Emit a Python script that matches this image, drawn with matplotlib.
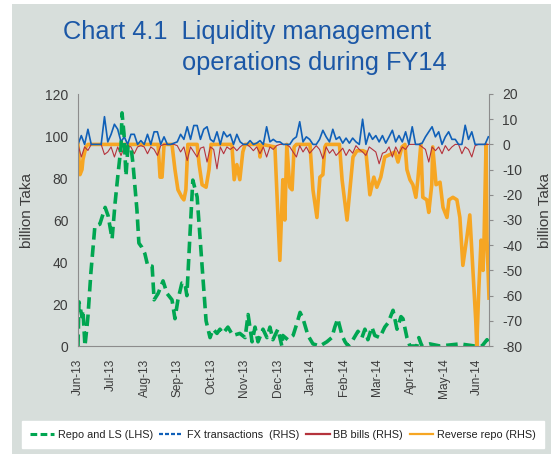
"""Chart 4.1: liquidity management operations during FY14 (repo, FX, BB bills, reverse repo)."""

import matplotlib

matplotlib.use("Agg")
import matplotlib.pyplot as plt
import numpy as np
from matplotlib.lines import Line2D
from matplotlib.patches import Rectangle

plt.rcParams["axes.unicode_minus"] = False

BG = "#d7dedb"
TITLE_BLUE = "#1b57a6"
TEXT = "#3c3c3c"
AXIS_GREY = "#8c8c8c"
GREEN = "#00a651"
ORANGE = "#f6a623"
BLUE = "#1060b8"
RED = "#b5333c"

MONTH_LABELS = [
    "Jun-13", "Jul-13", "Aug-13", "Sep-13", "Oct-13", "Nov-13", "Dec-13",
    "Jan-14", "Feb-14", "Mar-14", "Apr-14", "May-14", "Jun-14",
]

# x positions are in months since the start of the chart (Jun-13 = 0)
REPO_X = [
    0.00, 0.03, 0.12, 0.15, 0.21, 0.27, 0.30, 0.39, 0.51, 0.66, 0.82, 0.91,
    1.03, 1.12, 1.21, 1.30, 1.33, 1.39, 1.45, 1.51, 1.60, 1.66, 1.78, 1.84,
    1.93, 2.02, 2.11, 2.24, 2.30, 2.42, 2.57, 2.69, 2.84, 2.93, 3.02, 3.14,
    3.23, 3.29, 3.38, 3.47, 3.60, 3.75, 3.87, 3.99, 4.08, 4.20, 4.29, 4.38,
    4.53, 4.68, 4.89, 5.05, 5.14, 5.26, 5.35, 5.44, 5.59, 5.71, 5.80, 5.89,
    6.04, 6.16, 6.19, 6.34, 6.50, 6.62, 6.71, 6.80, 6.95, 7.10, 7.31, 7.52,
    7.67, 7.76, 7.85, 7.98, 8.07, 8.16, 8.31, 8.46, 8.58, 8.67, 8.76, 8.88,
    8.97, 9.12, 9.27, 9.37, 9.52, 9.64, 9.76, 9.82, 9.94, 10.03, 10.24, 10.30,
    10.39, 10.63, 10.94, 11.54, 11.99, 12.21, 12.36, 12.42,
]
REPO_VALUES = [
    0, 21, 14, 17, 0, 9, 14, 35, 57, 58, 66, 62,
    51, 68, 82, 95, 111, 101, 81, 95, 95, 87, 65, 49,
    47, 44, 38, 38, 22, 25, 31, 25, 22, 13, 22, 30,
    30, 24, 52, 79, 71, 38, 12, 4, 8, 6, 8, 6,
    9, 5, 6, 4, 15, 2, 9, 2, 8, 4, 9, 3,
    8, 0, 5, 3, 5, 11, 16, 13, 5, 1, 0, 2,
    4, 9, 13, 5, 2, 0, 3, 7, 4, 8, 3, 9,
    5, 4, 9, 11, 17, 8, 14, 13, 4, 0, 0, 4,
    0, 1, 0, 1, 0, 0, 3, 1,
]

RREPO_X = [
    0.00, 0.06, 0.12, 0.15, 0.24, 0.30,
    2.42, 2.48, 2.54, 2.60,
    2.84, 2.93, 3.02, 3.14, 3.20, 3.26, 3.32,
    3.60, 3.66, 3.75, 3.87, 3.96, 4.02,
    4.65, 4.72, 4.80, 4.89, 4.98, 5.05,
    5.46, 5.50, 5.56,
    5.95, 6.10, 6.19, 6.25, 6.31, 6.40, 6.47, 6.53, 6.60,
    7.01, 7.10, 7.22, 7.31, 7.40, 7.46, 7.50,
    7.90, 7.98, 8.13, 8.31, 8.43, 8.61, 8.70,
    8.82, 8.94, 9.03, 9.15, 9.27, 9.43, 9.58, 9.67, 9.79, 9.88,
    9.94, 10.03, 10.12, 10.21, 10.27, 10.36, 10.42, 10.54, 10.60, 10.69,
    10.72, 10.82, 10.94, 11.03, 11.15, 11.21, 11.33, 11.45, 11.54, 11.63,
    11.75, 11.84, 11.93, 12.02, 12.05, 12.11, 12.18, 12.24, 12.27, 12.33,
    12.36, 12.42,
]
RREPO_VALUES = [
    0, -12, -10, -6, -1, 0,
    0, -13, -13, 0,
    0, -10, -18, -21, -22, -18, 0,
    0, -8, -16, -17, -10, 0,
    0, -14, -8, -14, -3, 0,
    0, -5, 0,
    -1, -46, -14, -30, 0, -17, -18, -1, 0,
    0, -18, -29, -13, -12, -1, 0,
    0, -14, -30, -5, -2.5, -2.5, -3,
    -20, -13, -17, -13, -5, -4, -3, -7, -1, 0,
    -10, -14, -16, -21, -14, 0, -21, -22, -27, -16,
    -1, -16, -15, -25, -29, -22, -21, -22, -29, -48,
    -37, -28, -49, -70, -80, -58, -38, -50, -38, 0,
    -38, -61,
]

# FX and BB bills read every 0.1 month
FX_VALUES = [
    0, 3.5, 0, 6, 0, 0, 0, 0, 11, 1,
    4, 8, 6, 1, 3, 0, 4, 4, 0, 1.5,
    0, 4, 0, 5, 5, 0, 3, 0, 0, 0.5,
    1, 4, 2, 7, 2, 7.5, 7.5, 2, 6, 7,
    2, 1, 5, 0, 5, 3, 4, 0, 4, 1,
    0, 0, 1.5, 0, 0.5, 1.5, 0, 7, 1, 2,
    1, 1, 0, 0, 0, 2, 3, 9, 1, 3,
    2, 0, 0, 2, 5.6, 3, 1, 6, 2, 3,
    0.5, 2.5, 0.5, 2.5, 1, 0, 10, 0, 4.5, 2,
    3.5, 1, 3.5, 0.5, 3, 5.6, 1, 3.5, 1, 5,
    0, 7, 0, 0, 0.5, 3, 5, 7, 3, 5,
    0, 3, 5, 2, 2, 0, 0, 7.6, 2, 5,
    0, 0, 0, 0, 3,
]
BB_VALUES = [
    0, -5, -1, -2.4, 0, 0, 0, 0, -4, -3,
    -1, -5, -1, -4.4, -1, -0.5, -1, -3.7, -1, -0.5,
    -1, -3.7, -1, -2, -4.4, -0.5, 0, 0, 0, 0,
    -0.5, -3, -1, -6.4, -1, -3, -5, -1.5, -1, -7,
    -1, -2, -9.7, -1, -3.7, -1, -2, -1, -2.5, -1,
    0, 0, -1, -2.5, -1, -3.7, -1, -5, -1, -2,
    -0.5, 0, 0, 0, -1, -3, -5, -0.5, -3, -1,
    -3.5, -2, -0.5, -2, -5.7, -1, -3.5, -2, -4.4, -3,
    -1.5, -4.4, -2, -3.5, -0.5, -2, -3, -4.4, -1, -2,
    -3, -7.7, -3.5, -3, -1, -5, -1, -3.7, -1, -2,
    0, 0, 0, 0, -1, -2, -7, -1, -2.5, -1,
    -3.7, -0.5, -2.5, -1, 0, 0, -3.7, -1, -2, -5,
    -0.5, 0, 0, 0, 0,
]
GRID_STEP = 0.1

W, H = 551, 454


def fx(px: float) -> float:
    return px / W


def fy(py: float) -> float:
    return 1 - py / H


def main() -> None:
    fig = plt.figure(figsize=(W / 100, H / 100), dpi=100, facecolor="white")
    fig.patches.append(
        Rectangle((fx(12), 0), 1 - fx(12), fy(4), transform=fig.transFigure,
                  facecolor=BG, edgecolor="none", zorder=-10)
    )

    fig.text(fx(63), fy(39.3), "Chart 4.1  Liquidity management",
             family="Liberation Sans", fontsize=18.3, color=TITLE_BLUE, va="baseline")
    fig.text(fx(182), fy(70), "operations during FY14",
             family="Liberation Sans", fontsize=18.3, color=TITLE_BLUE, va="baseline")

    left, right, top, bottom = 78, 489, 94, 346
    ax = fig.add_axes([fx(left), fy(bottom), (right - left) / W, (bottom - top) / H])
    ax2 = ax.twinx()
    ax.set_zorder(ax2.get_zorder() + 1)
    ax.patch.set_visible(False)
    ax2.patch.set_visible(False)

    grid_x = np.arange(len(FX_VALUES)) * GRID_STEP
    ax2.plot(RREPO_X, RREPO_VALUES, color=ORANGE, lw=2.6, solid_joinstyle="round", zorder=1)
    ax2.plot(grid_x, BB_VALUES, color=RED, lw=0.8, zorder=2)
    ax2.plot(grid_x, FX_VALUES, color=BLUE, lw=1.2, zorder=3)
    ax.plot(REPO_X, REPO_VALUES, color=GREEN, lw=2.6, dashes=(3.2, 1.6))

    ax.set_xlim(0, 12.42)
    ax.set_ylim(0, 120)
    ax2.set_ylim(-80, 20)
    ax.set_yticks(np.arange(0, 121, 20))
    ax2.set_yticks(np.arange(-80, 21, 10))
    ax.set_xticks(np.arange(len(MONTH_LABELS)) * 1.005)
    ax.set_xticklabels(MONTH_LABELS, rotation=90, family="Liberation Sans", fontsize=8.6)

    for a in (ax, ax2):
        for side in ("top", "left", "right", "bottom"):
            a.spines[side].set_visible(False)
    for side in ("left", "bottom"):
        ax.spines[side].set_visible(True)
        ax.spines[side].set_color(AXIS_GREY)
        ax.spines[side].set_linewidth(0.8)
    ax2.spines["right"].set_visible(True)
    ax2.spines["right"].set_color(AXIS_GREY)
    ax2.spines["right"].set_linewidth(0.8)

    ax.tick_params(axis="x", length=0, pad=9, colors=TEXT)
    ax.tick_params(axis="y", length=0, pad=7, colors=TEXT, labelsize=10)
    ax2.tick_params(axis="y", length=2.7, width=0.8, color=AXIS_GREY, pad=7,
                    labelcolor=TEXT, labelsize=10)
    for lab in ax.get_yticklabels() + ax2.get_yticklabels():
        lab.set_family("Liberation Sans")

    fig.text(fx(27), fy(211), "billion Taka", rotation=90, ha="center", va="center",
             family="Liberation Sans", fontsize=11, color=TEXT)
    fig.text(fx(545), fy(211), "billion Taka", rotation=90, ha="center", va="center",
             family="Liberation Sans", fontsize=11, color=TEXT)

    handles = [
        Line2D([], [], color=GREEN, lw=2.2, dashes=(2.2, 1.1)),
        Line2D([], [], color=BLUE, lw=1.6, dashes=(1.8, 0.9)),
        Line2D([], [], color=RED, lw=1.6),
        Line2D([], [], color=ORANGE, lw=1.6),
    ]
    labels = ["Repo and LS (LHS)", "FX transactions  (RHS)", "BB bills (RHS)",
              "Reverse repo (RHS)"]
    leg = fig.legend(
        handles, labels, loc="center", bbox_to_anchor=(fx(283), fy(434.5)),
        ncol=4, frameon=True, fancybox=False, facecolor="white", edgecolor="white",
        framealpha=1, handlelength=2.2, handletextpad=0.35, columnspacing=0.6,
        borderpad=0.75, prop={"family": "Liberation Sans", "size": 7.8},
    )
    for t in leg.get_texts():
        t.set_color("#222222")

    fig.savefig("out.png", dpi=100, facecolor="white")
    plt.close(fig)


if __name__ == "__main__":
    main()
